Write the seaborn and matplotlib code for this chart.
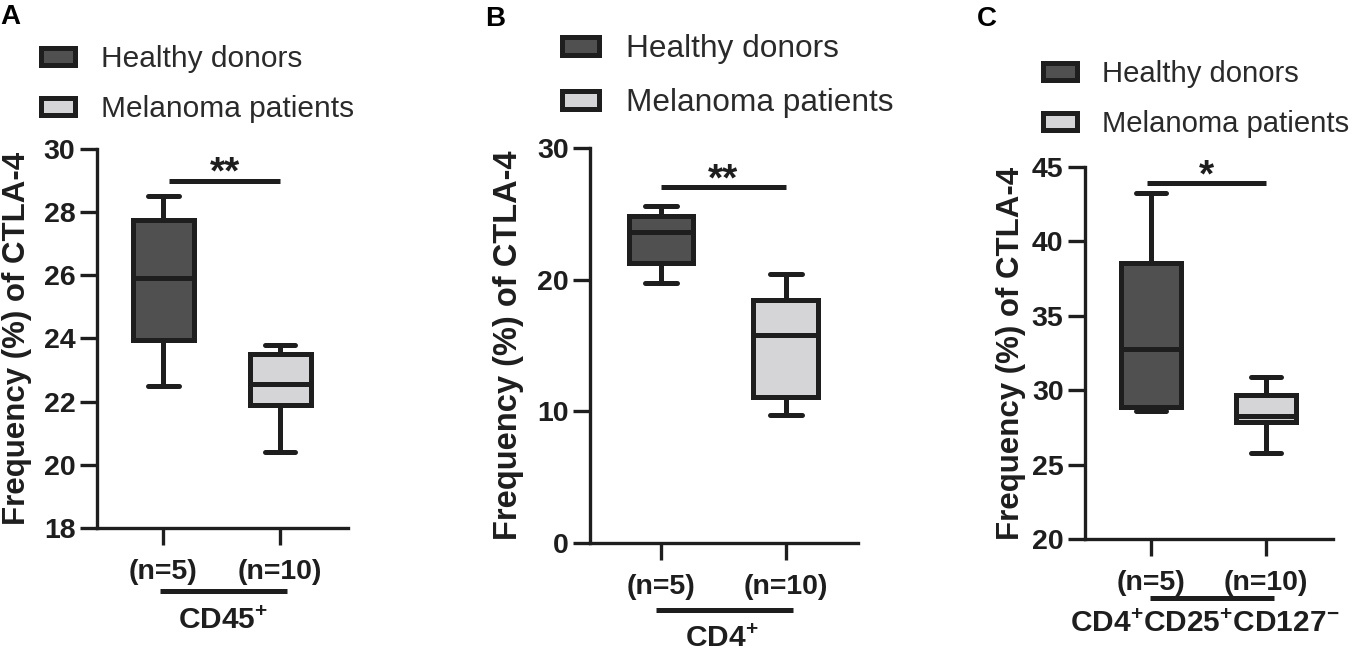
import numpy as np
import pandas as pd
import matplotlib
matplotlib.use("Agg")
import matplotlib.pyplot as plt
from matplotlib.patches import Patch
import seaborn as sns

# === Data: five-number summaries (min, Q1, median, Q3, max) ===
groups = ["Healthy donors", "Melanoma patients"]
n_labels = ["(n=5)", "(n=10)"]

healthy_cd45 = [22.5, 23.95, 25.9, 27.75, 28.5]
melanoma_cd45 = [20.4, 21.9, 22.55, 23.5, 23.8]
healthy_cd4 = [19.75, 21.25, 23.6, 24.8, 25.6]
melanoma_cd4 = [9.7, 11.1, 15.8, 18.45, 20.45]
healthy_treg = [28.6, 28.9, 32.8, 38.55, 43.25]
melanoma_treg = [25.8, 27.85, 28.25, 29.7, 30.9]

subsets = [r"$\mathbf{CD45^{+}}$", r"$\mathbf{CD4^{+}}$",
           r"$\mathbf{CD4^{+}CD25^{+}CD127^{-}}$"]
panel_letters = ["A", "B", "C"]
stars = ["**", "**", "*"]
sig_y = [29.0, 27.0, 43.9]
y_ticks = [[18, 20, 22, 24, 26, 28, 30], [0, 10, 20, 30], [20, 25, 30, 35, 40, 45]]

# === Style ===
sns.set_style("ticks")
plt.rcParams["font.family"] = ["Liberation Sans", "DejaVu Sans"]
plt.rcParams["mathtext.fontset"] = "custom"
plt.rcParams["mathtext.rm"] = "Liberation Sans"
plt.rcParams["mathtext.bf"] = "Liberation Sans:bold"

edge = "#1e1e1e"
box_colors = ["#505050", "#d5d5d7"]
lw = 3.6

# axes rectangles [left, bottom, width, height] in figure fraction
rects = [[0.0714, 0.1976, 0.1848, 0.5760],
         [0.4345, 0.1748, 0.1973, 0.6003],
         [0.7990, 0.1809, 0.1826, 0.5653]]
ylabel_x = [-0.26, -0.246, -0.238]
ylabel_size = [22.5, 23.5, 22.5]
legend_xy = [(0.0303, 0.932), (0.4140, 0.948), (0.7680, 0.909)]
legend_size = [21.5, 22.8, 21.1]
letter_x = [0.0, 0.357, 0.7194]
letter_y = [1 - 4 / 658, 1 - 6 / 658, 1 - 6 / 658]
sig_x = [(0.05, 1.0), (0.0, 1.0), (-0.03, 1.0)]
under_x = [(-0.03, 1.06), (-0.04, 1.06), (-0.01, 1.07)]
under_y = [-0.166, -0.170, -0.159]
subset_xy = [(0.51, -0.246), (0.49, -0.243), (0.47, -0.229)]

panels = [(healthy_cd45, melanoma_cd45), (healthy_cd4, melanoma_cd4),
          (healthy_treg, melanoma_treg)]

fig = plt.figure(figsize=(13.58, 6.58), dpi=100)

for i, (healthy, melanoma) in enumerate(panels):
    ax = fig.add_axes(rects[i])
    df = pd.DataFrame({
        "group": [groups[0]] * len(healthy) + [groups[1]] * len(melanoma),
        "value": healthy + melanoma,
    })
    sns.boxplot(data=df, x="group", y="value", hue="group", order=groups,
                hue_order=groups, palette=dict(zip(groups, box_colors)),
                width=0.52, whis=(0, 100), showfliers=False, linewidth=lw,
                linecolor=edge, legend=False, ax=ax)

    ax.set_xlim(-0.57, 1.58)
    ax.set_ylim(y_ticks[i][0], y_ticks[i][-1])
    ax.set_yticks(y_ticks[i])
    ax.set_xticks([0, 1])
    ax.set_xticklabels(n_labels)
    ax.set_xlabel("")
    ax.set_ylabel("Frequency (%) of CTLA-4", fontsize=ylabel_size[i],
                  fontweight="bold", color=edge)
    ax.yaxis.set_label_coords(ylabel_x[i], 0.5)

    sns.despine(ax=ax)
    for side in ["left", "bottom"]:
        ax.spines[side].set_linewidth(2.4)
        ax.spines[side].set_color(edge)
    ax.tick_params(axis="both", length=12, width=2.4, color=edge,
                   labelsize=20.5, labelcolor=edge)
    ax.tick_params(axis="y", pad=3.5)
    ax.tick_params(axis="x", pad=10)
    for lab in ax.get_xticklabels() + ax.get_yticklabels():
        lab.set_fontweight("bold")

    # significance bar
    ax.plot(sig_x[i], [sig_y[i], sig_y[i]], color=edge, lw=lw,
            solid_capstyle="butt", clip_on=False)
    ax.annotate(stars[i], xy=(np.mean(sig_x[i]), sig_y[i]), xytext=(0, -2),
                textcoords="offset points", ha="center", va="baseline",
                fontsize=28, fontweight="bold", color=edge,
                annotation_clip=False)

    # group underline and subset label
    tr = ax.get_xaxis_transform()
    ax.plot(under_x[i], [under_y[i], under_y[i]], color=edge, lw=lw,
            solid_capstyle="butt", transform=tr, clip_on=False)
    ax.text(subset_xy[i][0], subset_xy[i][1], subsets[i], transform=tr,
            ha="center", va="center", fontsize=21.5, color=edge)

    handles = [Patch(facecolor=c, edgecolor=edge, linewidth=lw) for c in box_colors]
    ax.legend(handles, groups, loc="upper left", bbox_to_anchor=legend_xy[i],
              bbox_transform=fig.transFigure, frameon=False,
              fontsize=legend_size[i], handlelength=1.15, handleheight=0.5,
              handletextpad=0.85, labelspacing=0.75, borderpad=0,
              borderaxespad=0, labelcolor="#2a2a2a")

    fig.text(letter_x[i], letter_y[i], panel_letters[i], ha="left", va="top",
             fontsize=20, fontweight="bold", color="black")

fig.savefig("out.png", dpi=100)
